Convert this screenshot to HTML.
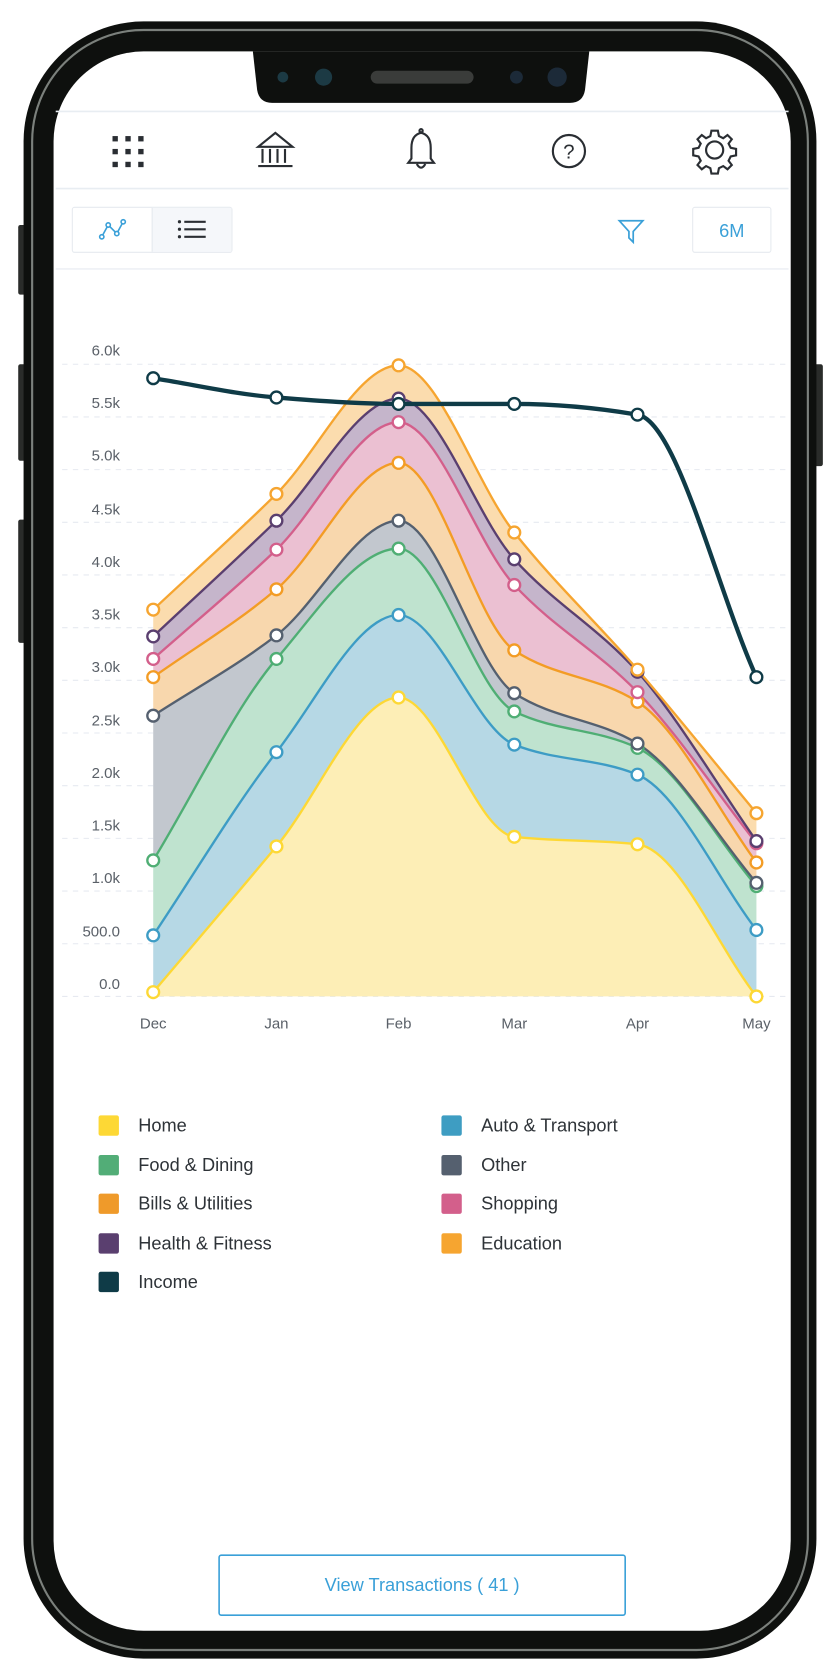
<!DOCTYPE html>
<html><head><meta charset="utf-8">
<style>
html,body{margin:0;padding:0;background:#fff;width:840px;height:1680px;overflow:hidden}
svg{display:block}
text{font-family:"Liberation Sans",sans-serif}
</style></head>
<body>
<svg id="s" width="840" height="1680" viewBox="0 0 784 1568" xmlns="http://www.w3.org/2000/svg">
<!-- side buttons -->
<rect x="17" y="210" width="8" height="65" rx="2" fill="#2a2c2a"/>
<rect x="17" y="340" width="8" height="90" rx="2" fill="#2a2c2a"/>
<rect x="17" y="485" width="8" height="115" rx="2" fill="#2a2c2a"/>
<rect x="760" y="340" width="8" height="95" rx="2" fill="#2a2c2a"/>
<!-- phone body -->
<rect x="22" y="20" width="740" height="1528" rx="112" fill="#0e100e"/>
<rect x="30" y="28" width="724" height="1512" rx="104" fill="none" stroke="#7b807c" stroke-width="2"/>
<rect x="50" y="48" width="688" height="1474" rx="84" fill="#fff"/>
<!-- notch -->
<path d="M236 48 H550 L546 84 Q544 96 532 96 H254 Q242 96 240 84 Z" fill="#0e100e"/>
<circle cx="264" cy="72" r="5" fill="#1c3a44"/><circle cx="302" cy="72" r="8" fill="#1c3a44"/>
<rect x="346" y="66" width="96" height="12" rx="6" fill="#3a3c3a"/>
<circle cx="482" cy="72" r="6" fill="#1c2a38"/><circle cx="520" cy="72" r="9" fill="#1c2a38"/>
<!-- header -->
<line x1="52" y1="104" x2="736" y2="104" stroke="#e8edf2" stroke-width="1.5"/>
<line x1="52" y1="176" x2="736" y2="176" stroke="#e8edf2" stroke-width="1.5"/>
<g fill="#2a2e33">
<rect x="105" y="127" width="5" height="5"/><rect x="117" y="127" width="5" height="5"/><rect x="129" y="127" width="5" height="5"/>
<rect x="105" y="139" width="5" height="5"/><rect x="117" y="139" width="5" height="5"/><rect x="129" y="139" width="5" height="5"/>
<rect x="105" y="151" width="5" height="5"/><rect x="117" y="151" width="5" height="5"/><rect x="129" y="151" width="5" height="5"/>
</g>
<g fill="none" stroke="#2a2e33" stroke-width="2">
<path d="M241 137 L257 124 L273 137 Z"/>
<line x1="245" y1="139" x2="245" y2="152"/><line x1="252" y1="139" x2="252" y2="152"/><line x1="259" y1="139" x2="259" y2="152"/><line x1="266" y1="139" x2="266" y2="152"/>
<line x1="241" y1="155" x2="273" y2="155"/>
<path d="M381 152 L384 148 V138 Q384 126 393 124 Q402 126 402 138 V148 L405 152 Z"/>
<path d="M389 153 Q393 160 397 153"/>
<circle cx="393" cy="122" r="1.5"/>
<circle cx="531" cy="141" r="15"/>
<circle cx="667" cy="140" r="8"/>
<path d="M664 122 h6 l1 5 l4 2 l4 -3 l4 4 l-3 4 l2 4 l5 1 v6 l-5 1 l-2 4 l3 4 l-4 4 l-4 -3 l-4 2 l-1 5 h-6 l-1 -5 l-4 -2 l-4 3 l-4 -4 l3 -4 l-2 -4 l-5 -1 v-6 l5 -1 l2 -4 l-3 -4 l4 -4 l4 3 l4 -2 z"/>
</g>
<text x="531" y="148" font-size="19" text-anchor="middle" fill="#2a2e33">?</text>
<!-- toolbar -->
<rect x="67.5" y="193.5" width="149" height="42" rx="2" fill="#fff" stroke="#e6eaef"/>
<rect x="142" y="194" width="74" height="41" fill="#f5f7fa"/>
<line x1="142" y1="194" x2="142" y2="235" stroke="#e6eaef"/>
<path d="M95 221 L101 210 L109 218 L115 207" fill="none" stroke="#3aa0d8" stroke-width="1.5"/>
<g fill="#fff" stroke="#3aa0d8" stroke-width="1.5"><circle cx="95" cy="221" r="2"/><circle cx="101" cy="210" r="2"/><circle cx="109" cy="218" r="2"/><circle cx="115" cy="207" r="2"/></g>
<g stroke="#2a2e33" stroke-width="2"><line x1="172" y1="207" x2="192" y2="207"/><line x1="172" y1="214" x2="192" y2="214"/><line x1="172" y1="221" x2="192" y2="221"/></g>
<g fill="#2a2e33"><circle cx="167.5" cy="207" r="1.5"/><circle cx="167.5" cy="214" r="1.5"/><circle cx="167.5" cy="221" r="1.5"/></g>
<path d="M578 206 H600 L591 216 V226 L587 222 V216 Z" fill="none" stroke="#3aa0d8" stroke-width="1.6"/>
<rect x="646.5" y="193.5" width="73" height="42" rx="2" fill="#fff" stroke="#e6eaef"/>
<text x="683" y="221" font-size="17" text-anchor="middle" fill="#3aa0d8">6M</text>
<line x1="52" y1="251" x2="736" y2="251" stroke="#eef1f5" stroke-width="1.5"/>
<!-- grid -->
<g id="grid" stroke="#e6e9f0" stroke-width="1" stroke-dasharray="5,5"></g>
<g font-size="14" fill="#5a6068" text-anchor="end">
<text x="112" y="332">6.0k</text><text x="112" y="381">5.5k</text><text x="112" y="430">5.0k</text>
<text x="112" y="480">4.5k</text><text x="112" y="529">4.0k</text><text x="112" y="578">3.5k</text>
<text x="112" y="627">3.0k</text><text x="112" y="677">2.5k</text><text x="112" y="726">2.0k</text>
<text x="112" y="775">1.5k</text><text x="112" y="824">1.0k</text><text x="112" y="874">500.0</text>
<text x="112" y="923">0.0</text>
</g>
<g font-size="14" fill="#5a6068" text-anchor="middle">
<text x="143" y="960">Dec</text><text x="258" y="960">Jan</text><text x="372" y="960">Feb</text>
<text x="480" y="960">Mar</text><text x="595" y="960">Apr</text><text x="706" y="960">May</text>
</g>
<g id="chart"></g>
<!-- legend -->
<g font-size="17" fill="#2e3338">
<rect x="92" y="1041" width="19" height="19" rx="2" fill="#fdd835"/><text x="129" y="1056">Home</text>
<rect x="92" y="1078" width="19" height="19" rx="2" fill="#52ad77"/><text x="129" y="1093">Food &amp; Dining</text>
<rect x="92" y="1114" width="19" height="19" rx="2" fill="#ef9a2a"/><text x="129" y="1129">Bills &amp; Utilities</text>
<rect x="92" y="1151" width="19" height="19" rx="2" fill="#5a3f6f"/><text x="129" y="1166">Health &amp; Fitness</text>
<rect x="92" y="1187" width="19" height="19" rx="2" fill="#0f3b47"/><text x="129" y="1202">Income</text>
<rect x="412" y="1041" width="19" height="19" rx="2" fill="#3e9dc2"/><text x="449" y="1056">Auto &amp; Transport</text>
<rect x="412" y="1078" width="19" height="19" rx="2" fill="#55606f"/><text x="449" y="1093">Other</text>
<rect x="412" y="1114" width="19" height="19" rx="2" fill="#d35f8b"/><text x="449" y="1129">Shopping</text>
<rect x="412" y="1151" width="19" height="19" rx="2" fill="#f6a530"/><text x="449" y="1166">Education</text>
</g>
<rect x="204.5" y="1451.5" width="379" height="56" rx="2" fill="#fff" stroke="#3aa0d8" stroke-width="1.5"/>
<text x="394" y="1485" font-size="17" text-anchor="middle" fill="#3aa0d8">View Transactions ( 41 )</text>
</svg>
<script>
var NS="http://www.w3.org/2000/svg";
var g=document.getElementById("grid");
for(var i=0;i<=12;i++){var y=930-i*49.17;var l=document.createElementNS(NS,"line");l.setAttribute("x1",58);l.setAttribute("x2",736);l.setAttribute("y1",y);l.setAttribute("y2",y);g.appendChild(l);}
var X=[143,258,372,480,595,706];
var S=[
 {c:"#fdd835",f:"#fdeeb6",y:[926,790,651,781,788,930]},
 {c:"#3d9cc5",f:"#b6d8e5",y:[873,702,574,695,723,868]},
 {c:"#4fae74",f:"#bfe3cf",y:[803,615,512,664,698,827]},
 {c:"#55606f",f:"#c2c7ce",y:[668,593,486,647,694,824]},
 {c:"#f39c25",f:"#f8d7ad",y:[632,550,432,607,655,805]},
 {c:"#d35f8b",f:"#ebc0d2",y:[615,513,394,546,646,787]},
 {c:"#5a3f6f",f:"#c5b5cb",y:[594,486,372,522,627,785]},
 {c:"#f6a530",f:"#fbdcae",y:[569,461,341,497,625,759]}
];
function tang(x,y){var n=x.length,d=[],m=[];for(var k=0;k<n-1;k++)d.push((y[k+1]-y[k])/(x[k+1]-x[k]));
m[0]=d[0];m[n-1]=d[n-2];for(k=1;k<n-1;k++){if(d[k-1]*d[k]<=0)m[k]=0;else{var h0=x[k]-x[k-1],h1=x[k+1]-x[k];m[k]=3*(h0+h1)/((2*h1+h0)/d[k-1]+(h1+2*h0)/d[k]);}}return m;}
function seg(x,y){var m=tang(x,y),s="";for(var k=0;k<x.length-1;k++){var h=(x[k+1]-x[k])/3;s+=" C"+(x[k]+h)+","+(y[k]+m[k]*h)+" "+(x[k+1]-h)+","+(y[k+1]-m[k+1]*h)+" "+x[k+1]+","+y[k+1];}return s;}
function path(d,attrs,p){var e=document.createElementNS(NS,"path");e.setAttribute("d",d);for(var a in attrs)e.setAttribute(a,attrs[a]);p.appendChild(e);}
var ch=document.getElementById("chart");
var base=[930,930,930,930,930,930];
S.forEach(function(s){
 var rx=X.slice().reverse(),ry=base.slice().reverse();
 var d="M"+X[0]+","+s.y[0]+seg(X,s.y)+" L"+rx[0]+","+ry[0]+seg(rx,ry)+" Z";
 path(d,{fill:s.f,stroke:"none"},ch);
 base=s.y;
});
S.forEach(function(s){path("M"+X[0]+","+s.y[0]+seg(X,s.y),{fill:"none",stroke:s.c,"stroke-width":2.2},ch);});
var inc=[353,371,377,377,387,632];
path("M"+X[0]+","+inc[0]+seg(X,inc),{fill:"none",stroke:"#0f3b47","stroke-width":4},ch);
S.concat([{c:"#0f3b47",y:inc}]).forEach(function(s){for(var k=0;k<6;k++){var c=document.createElementNS(NS,"circle");c.setAttribute("cx",X[k]);c.setAttribute("cy",s.y[k]);c.setAttribute("r",5.5);c.setAttribute("fill","#fff");c.setAttribute("stroke",s.c);c.setAttribute("stroke-width",2.2);ch.appendChild(c);}});
</script>
</body></html>
